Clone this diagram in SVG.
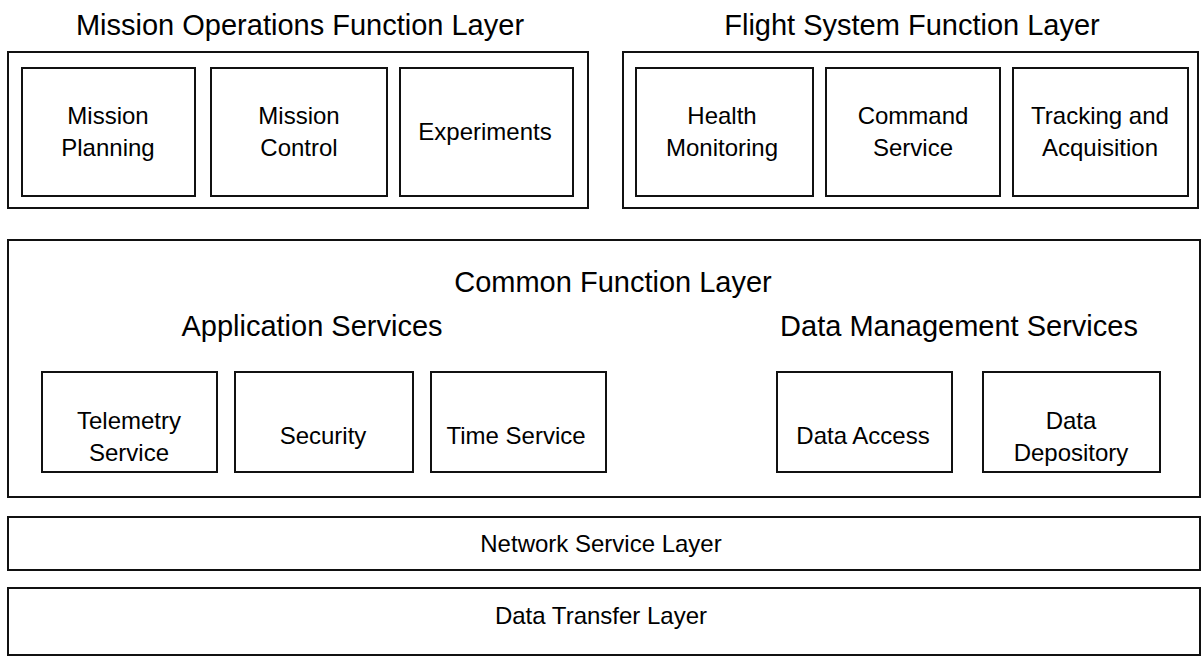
<svg xmlns="http://www.w3.org/2000/svg" width="1202" height="666" viewBox="0 0 1202 666">
<style>
.box{fill:none;stroke:#111;stroke-width:2}
.t{font-family:"Liberation Sans",Arial,sans-serif;fill:#000;text-anchor:middle}
.h{font-size:29px}
.n{font-size:24px}
</style>
<rect width="1202" height="666" fill="#fff"/>
<g id="mission-ops-layer">
<text class="t h" x="300" y="35">Mission Operations Function Layer</text>
<rect class="box" x="8" y="52" width="580" height="156"/>
</g>
<g id="mission-planning"><rect class="box" x="22" y="68" width="173" height="128"/><text class="t n" x="108" y="124">Mission</text><text class="t n" x="108" y="156">Planning</text></g>
<g id="mission-control"><rect class="box" x="211" y="68" width="176" height="128"/><text class="t n" x="299" y="124">Mission</text><text class="t n" x="299" y="156">Control</text></g>
<g id="experiments"><rect class="box" x="400" y="68" width="173" height="128"/><text class="t n" x="485" y="140">Experiments</text></g>
<g id="flight-system-layer">
<text class="t h" x="912" y="35">Flight System Function Layer</text>
<rect class="box" x="623" y="52" width="575" height="156"/>
</g>
<g id="health-monitoring"><rect class="box" x="636" y="68" width="177" height="128"/><text class="t n" x="722" y="124">Health</text><text class="t n" x="722" y="156">Monitoring</text></g>
<g id="command-service"><rect class="box" x="826" y="68" width="174" height="128"/><text class="t n" x="913" y="124">Command</text><text class="t n" x="913" y="156">Service</text></g>
<g id="tracking-acquisition"><rect class="box" x="1013" y="68" width="175" height="128"/><text class="t n" x="1100" y="124">Tracking and</text><text class="t n" x="1100" y="156">Acquisition</text></g>
<g id="common-layer">
<rect class="box" x="8" y="240" width="1192" height="257"/>
<text class="t h" x="613" y="292">Common Function Layer</text>
<text class="t h" x="312" y="336">Application Services</text>
<text class="t h" x="959" y="336">Data Management Services</text>
</g>
<g id="telemetry-service"><rect class="box" x="42" y="372" width="175" height="100"/><text class="t n" x="129" y="429">Telemetry</text><text class="t n" x="129" y="461">Service</text></g>
<g id="security"><rect class="box" x="235" y="372" width="178" height="100"/><text class="t n" x="323" y="444">Security</text></g>
<g id="time-service"><rect class="box" x="431" y="372" width="175" height="100"/><text class="t n" x="516" y="444">Time Service</text></g>
<g id="data-access"><rect class="box" x="777" y="372" width="175" height="100"/><text class="t n" x="863" y="444">Data Access</text></g>
<g id="data-depository"><rect class="box" x="983" y="372" width="177" height="100"/><text class="t n" x="1071" y="429">Data</text><text class="t n" x="1071" y="461">Depository</text></g>
<g id="network-service-layer"><rect class="box" x="8" y="517" width="1192" height="53"/><text class="t n" x="601" y="552">Network Service Layer</text></g>
<g id="data-transfer-layer"><rect class="box" x="8" y="588" width="1192" height="67"/><text class="t n" x="601" y="624">Data Transfer Layer</text></g>
<g id="connectors"></g>
</svg>
